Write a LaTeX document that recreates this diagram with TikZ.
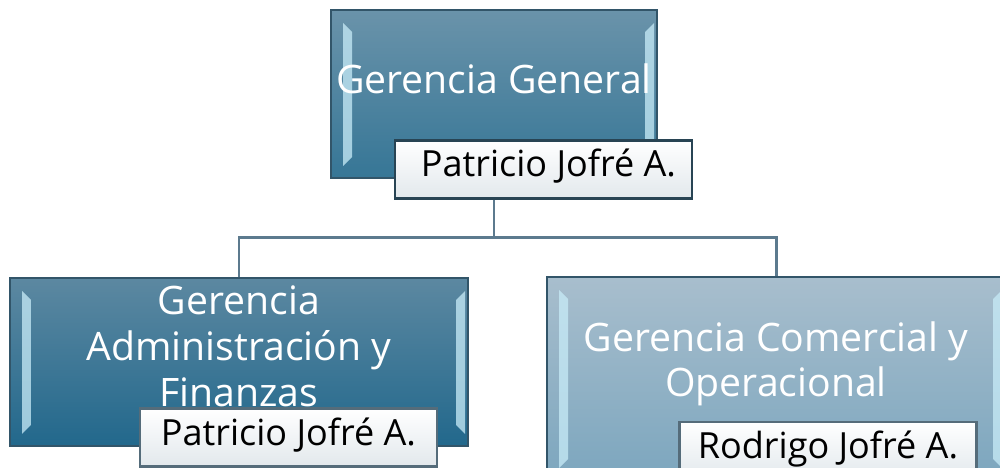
\documentclass[tikz,border=0pt]{standalone}
\usepackage{fontspec}
\setmainfont{Open Sans}
\usetikzlibrary{positioning,backgrounds}
\definecolor{borde}{RGB}{50,85,105}
\definecolor{bisel}{RGB}{200,236,248}
\definecolor{conector}{RGB}{92,122,142}
\definecolor{marco}{RGB}{85,108,122}
\definecolor{gris}{RGB}{226,232,236}
\tikzset{
  cargo/.style={rectangle, draw=borde, line width=0.9pt, text=white, align=center, minimum width=9.16cm, minimum height=3.36cm,
    font=\fontsize{22.3}{26}\selectfont, inner sep=0pt,
    path picture={
      \fill[bisel, opacity=0.75] ([shift={(0.24,-0.26)}]path picture bounding box.north west) -- ([shift={(0.42,-0.44)}]path picture bounding box.north west)
        -- ([shift={(0.42,0.42)}]path picture bounding box.south west) -- ([shift={(0.24,0.24)}]path picture bounding box.south west) -- cycle;
      \fill[bisel, opacity=0.75] ([shift={(-0.06,-0.26)}]path picture bounding box.north east) -- ([shift={(-0.24,-0.44)}]path picture bounding box.north east)
        -- ([shift={(-0.24,0.42)}]path picture bounding box.south east) -- ([shift={(-0.06,0.24)}]path picture bounding box.south east) -- cycle;
    }},
  nombre/.style={rectangle, draw=marco, line width=1.2pt, top color=white, bottom color=gris, text=black, minimum width=5.94cm, minimum height=1.16cm,
    inner sep=0pt, text height=0.55cm, text depth=0.25cm, font=\fontsize{20.5}{24}\selectfont},
  conexion/.style={draw=conector, line width=1.7pt}
}
\begin{document}
\begin{tikzpicture}

    \useasboundingbox (0,0) rectangle (20,-9.36);
    \clip (0,0) rectangle (20,-9.36);

    % Cargos
    \node (general) [cargo, minimum width=6.52cm, top color={rgb,255:red,106;green,147;blue,170}, bottom color={rgb,255:red,54;green,118;blue,150},
      text height=0.55cm, text depth=0.55cm] at (9.88,-1.88) {Gerencia General};
    \node (admin) [cargo, top color={rgb,255:red,92;green,136;blue,161}, bottom color={rgb,255:red,34;green,104;blue,140},
      text depth=0.64cm] at (4.78,-7.24) {Gerencia\\Administración y\\Finanzas};
    \node (comercial) [cargo, minimum height=4.06cm, top color={rgb,255:red,168;green,190;blue,205}, bottom color={rgb,255:red,124;green,166;blue,190},
      text depth=0.78cm] at (15.52,-7.57) {Gerencia Comercial y\\Operacional};

    % Nombres
    \node (nomGeneral) [nombre, draw=borde!80!black, line width=1.5pt] at (10.87,-3.39) {\hspace{0.2cm}Patricio Jofré A.};
    \node (nomAdmin) [nombre] at (5.77,-8.75) {Patricio Jofré A.};
    \node (nomComercial) [nombre] at (16.56,-9.02) {Rodrigo Jofré A.};

    % Conectores
    \begin{scope}[on background layer]
        \path (general.south) ++(0,-1.18) coordinate (rama);
        \draw [conexion] (general.south) -- (rama) -| (admin.north);
        \draw [conexion] (rama) -| (comercial.north);
    \end{scope}
\end{tikzpicture}
\end{document}
